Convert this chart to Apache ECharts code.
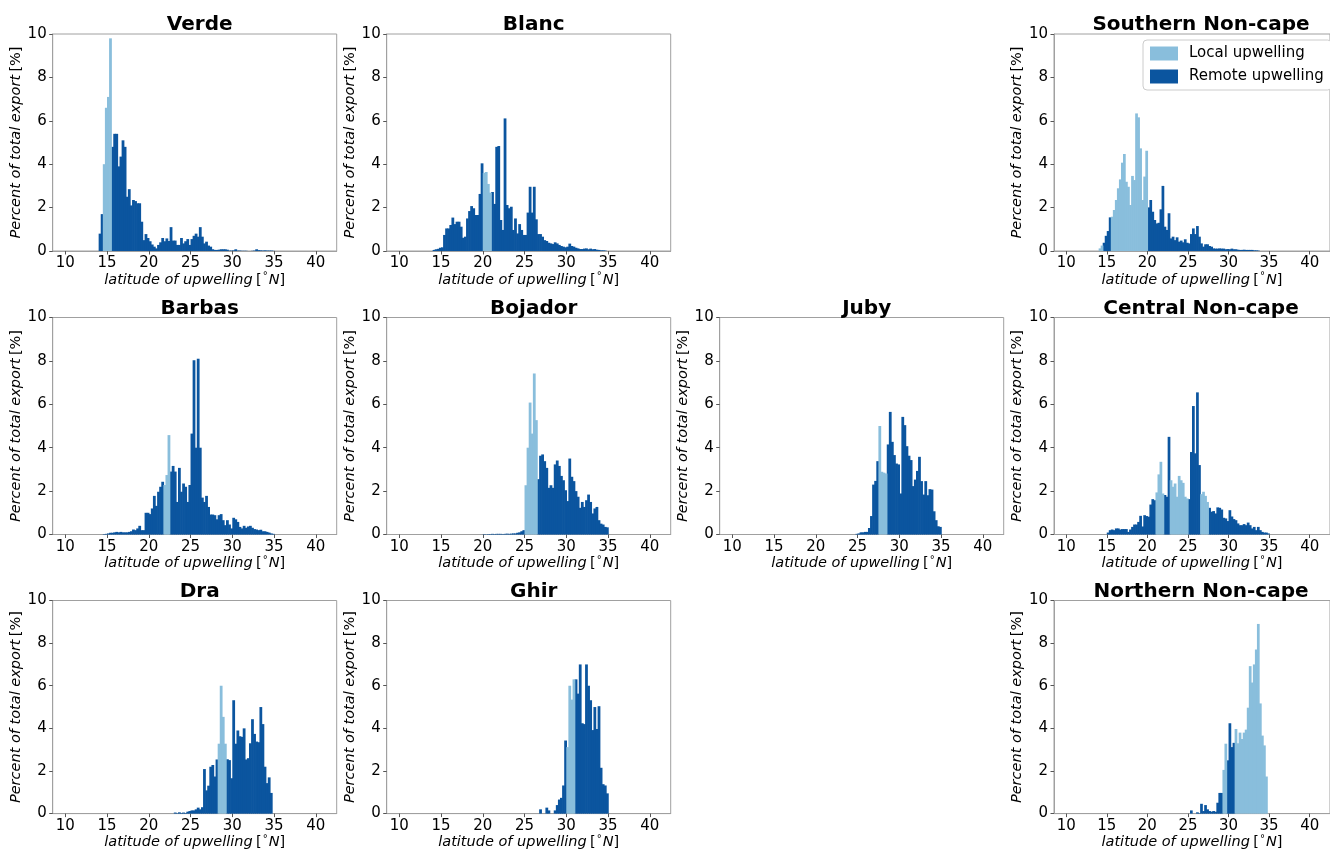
<!DOCTYPE html>
<html>
<head>
<meta charset="utf-8">
<script src="https://cdn.jsdelivr.net/npm/echarts@6/dist/echarts.min.js"></script>
<style>html,body{margin:0;padding:0;background:#fff}#c{width:1330px;height:851px}</style>
</head>
<body>
<div id="c"></div>
<script>
// ---------- data ----------
const xTicks = [10, 15, 20, 25, 30, 35, 40];
const yTicks = [0, 2, 4, 6, 8, 10];
const binWidth = 0.25;
const seriesNames = ['Local upwelling', 'Remote upwelling'];

const verdeStart = 14.0;
const verdeLocal = [[14.5, 15.5]];
const verdeValues = [0.8, 1.7, 4.0, 6.6, 7.1, 9.8, 4.8, 5.4, 5.4, 3.9, 4.35, 5.1, 4.8, 2.5, 2.85, 2.1,
  2.35, 2.3, 2.2, 2.2, 1.35, 0.5, 0.78, 0.6, 0.45, 0.3, 0.2, 0.12, 0.28, 0.4, 0.6, 0.45,
  0.58, 0.46, 1.1, 0.48, 0.48, 0.28, 0.28, 0.6, 0.35, 0.45, 0.55, 0.28, 0.55, 0.7, 0.8, 0.66,
  1.1, 0.66, 0.35, 0.43, 0.25, 0.2, 0.08, 0.05, 0.05, 0.06, 0.08, 0.08, 0.08, 0.06, 0.02, 0.02,
  0.03, 0.08, 0.02, 0.02, 0.01, 0.01, 0.01, 0, 0, 0.01, 0.02, 0.08, 0.04, 0.03, 0.02, 0.03,
  0.02, 0.02, 0.02, 0.01];

const blancStart = 14.0;
const blancLocal = [[20.0, 21.0]];
const blancValues = [0.05, 0.08, 0.1, 0.15, 0.17, 0.74, 1.04, 1.04, 1.2, 1.54, 1.24, 1.35, 1.35, 1.12, 0.61, 0.66,
  1.5, 1.84, 2.07, 1.97, 1.66, 1.66, 2.63, 4.04, 3.6, 3.64, 3.09, 2.69, 2.72, 2.17, 4.8, 4.84,
  1.43, 0.97, 6.11, 2.12, 1.97, 2.04, 0.97, 1.5, 0.81, 1.24, 0.97, 0.74, 0.74, 1.77, 2.96, 1.77,
  2.96, 1.46, 0.78, 0.78, 0.66, 0.5, 0.46, 0.38, 0.35, 0.32, 0.4, 0.35, 0.28, 0.23, 0.2, 0.17,
  0.2, 0.34, 0.23, 0.2, 0.15, 0.12, 0.09, 0.09, 0.11, 0.12, 0.08, 0.11, 0.08, 0.09, 0.06, 0.05,
  0.03, 0.03, 0.02];

const southernStart = 14.0;
const southernLocal = [[14.0, 14.5], [15.5, 20.0]];
const southernValues = [0.12, 0.25, 0.38, 0.7, 0.92, 1.55, 1.58, 1.89, 2.35, 2.89, 3.3, 4.07, 4.47, 3.19, 2.96, 2.12,
  3.46, 3.27, 6.34, 6.16, 4.73, 2.35, 3.43, 4.62, 2.01, 2.35, 1.81, 1.43, 1.27, 1.3, 1.92, 3.0,
  1.12, 0.97, 1.74, 0.58, 0.66, 0.5, 0.63, 0.43, 0.48, 0.4, 0.54, 0.38, 0.35, 0.78, 1.04, 0.78,
  1.15, 0.66, 0.35, 0.2, 0.31, 0.31, 0.23, 0.2, 0.12, 0.11, 0.11, 0.12, 0.11, 0.11, 0.08, 0.09,
  0.08, 0.11, 0.08, 0.08, 0.06, 0.05, 0.05, 0.06, 0.05, 0.05, 0.05, 0.05, 0.03, 0.03, 0.02];

const barbasStart = 14.5;
const barbasLocal = [[21.75, 22.5]];
const barbasValues = [0.02, 0.03, 0.05, 0.08, 0.08, 0.1, 0.12, 0.1, 0.12, 0.1, 0.1, 0.1, 0.12, 0.15,
  0.23, 0.2, 0.28, 0.4, 0.2, 0.2, 1.0, 1.0, 0.94, 1.2, 1.78, 1.32, 1.97, 2.2, 2.43, 2.28,
  2.74, 4.58, 2.9, 3.16, 2.9, 1.5, 3.07, 1.97, 2.35, 2.2, 1.5, 2.28, 4.65, 8.03, 4.0, 8.1,
  4.0, 1.7, 1.5, 1.78, 1.27, 0.92, 0.92, 0.89, 0.7, 0.89, 0.94, 0.66, 0.43, 0.66, 0.46, 0.28,
  0.77, 0.7, 0.58, 0.35, 0.28, 0.4, 0.31, 0.37, 0.4, 0.31, 0.25, 0.23, 0.2, 0.22, 0.15, 0.15,
  0.12, 0.09, 0.05, 0.03];

const bojadorStart = 20.0;
const bojadorLocal = [[25.0, 26.5]];
const bojadorValues = [0.02, 0.01, 0.02, 0.02, 0.03, 0.02, 0.03, 0.03, 0.03, 0.02, 0.03, 0.04, 0.03, 0.04, 0.05, 0.05,
  0.08, 0.1, 0.15, 0.2, 2.27, 4.0, 6.08, 4.65, 7.42, 5.27, 2.55, 3.63, 3.69, 3.38, 3.07, 2.15,
  2.27, 2.15, 3.23, 3.41, 3.16, 2.7, 2.5, 2.04, 1.54, 3.5, 2.66, 2.46, 2.0, 1.74, 1.23, 1.5,
  1.27, 1.58, 1.84, 1.5, 0.97, 1.2, 1.27, 0.66, 0.5, 0.46, 0.35, 0.33];

const jubyStart = 24.75;
const jubyLocal = [[27.5, 28.5]];
const jubyValues = [0.03, 0.05, 0.1, 0.1, 0.12, 0.12, 0.3, 0.85, 2.3, 2.47, 3.38, 5.0, 2.89, 2.85, 2.81,
  4.15, 5.65, 4.27, 3.66, 3.27, 3.23, 1.89, 5.42, 5.04, 4.07, 3.63, 3.43, 2.23, 2.53,
  2.93, 3.58, 2.46, 1.84, 2.46, 1.81, 2.09, 2.07, 1.07, 0.66, 0.38, 0.35];

const centralStart = 15.0;
const centralLocal = [[21.0, 22.0], [22.75, 25.0], [26.5, 27.5]];
const centralValues = [0.09, 0.2, 0.23, 0.2, 0.28, 0.28, 0.23, 0.25, 0.25, 0.25, 0.12, 0.23, 0.35, 0.46, 0.46, 0.58,
  0.86, 0.37, 0.89, 0.85, 0.82, 1.38, 1.63, 1.58, 1.94, 2.77, 3.35, 1.89, 1.82, 1.74, 4.5,
  2.5, 2.2, 2.35, 1.74, 2.7, 2.5, 2.38, 1.74, 1.66, 1.63, 3.8, 5.92, 3.74, 6.55, 3.2,
  1.86, 1.97, 1.78, 1.5, 1.23, 1.05, 1.08, 0.97, 1.25, 1.23, 1.15, 0.77, 0.74, 0.62,
  1.12, 0.83, 0.71, 0.66, 0.51, 0.43, 0.43, 0.48, 0.43, 0.55, 0.43, 0.28, 0.35, 0.2, 0.35, 0.2,
  0.12, 0.09, 0.09, 0.05];

const draStart = 23.0;
const draLocal = [[28.25, 29.25]];
const draValues = [0.05, 0.02, 0.06, 0.03, 0.05, 0.03, 0.09, 0.12, 0.15, 0.15, 0.2, 0.28, 0.2, 0.3,
  2.09, 1.09, 1.31, 2.2, 2.28, 1.74, 2.54, 3.28, 6.0, 4.54, 3.28, 2.55, 2.51, 1.66,
  5.32, 3.28, 3.9, 3.63, 3.6, 4.0, 2.54, 2.6, 3.3, 4.43, 3.74, 3.38, 3.35, 5.0, 4.2, 2.2,
  1.43, 1.7, 0.97];

const ghirStart = 26.75;
const ghirLocal = [[30.0, 31.0]];
const ghirValues = [0.2, 0, 0, 0.28, 0.15, 0, 0, 0.15, 0.4, 0.66, 0.74, 1.32, 3.43,
  3.12, 6.0, 5.35, 6.3, 6.3, 5.63, 7.0, 4.24, 4.2, 7.0, 6.0, 5.32, 3.92, 5.0, 3.97, 5.04,
  2.15, 1.38, 1.32, 0.95];

const northernStart = 25.25;
const northernLocal = [[29.25, 29.75], [30.75, 34.75]];
const northernValues = [0.15, 0, 0, 0.06, 0.02, 0.46, 0.12, 0.4, 0.2, 0.12, 0.09, 0.12, 0.09, 0.51, 0.97, 0.97,
  2.05, 3.28, 2.5, 4.24, 3.12, 3.32, 3.97, 3.3, 3.8, 3.5, 3.8, 3.94, 4.97, 6.92, 6.15, 7.0,
  7.7, 8.9, 5.17, 3.66, 3.2, 1.74];

// ---------- layout / style ----------
const LIGHT = '#89bedc';
const DARK = '#0b559f';
const FONT = 'DejaVu Sans';
const rowTops = [34, 317.5, 600.5];
const colLefts = [52.7, 386.7, 719.7, 1054];
const gridW = 284, gridH = 217;

const panels = [
  { title: 'Verde', start: verdeStart, values: verdeValues, local: verdeLocal, r: 0, c: 0 },
  { title: 'Blanc', start: blancStart, values: blancValues, local: blancLocal, r: 0, c: 1 },
  { title: 'Southern Non-cape', start: southernStart, values: southernValues, local: southernLocal, r: 0, c: 3 },
  { title: 'Barbas', start: barbasStart, values: barbasValues, local: barbasLocal, r: 1, c: 0 },
  { title: 'Bojador', start: bojadorStart, values: bojadorValues, local: bojadorLocal, r: 1, c: 1 },
  { title: 'Juby', start: jubyStart, values: jubyValues, local: jubyLocal, r: 1, c: 2 },
  { title: 'Central Non-cape', start: centralStart, values: centralValues, local: centralLocal, r: 1, c: 3 },
  { title: 'Dra', start: draStart, values: draValues, local: draLocal, r: 2, c: 0 },
  { title: 'Ghir', start: ghirStart, values: ghirValues, local: ghirLocal, r: 2, c: 1 },
  { title: 'Northern Non-cape', start: northernStart, values: northernValues, local: northernLocal, r: 2, c: 3 }
];

function renderBar(params, api) {
  const p0 = api.coord([api.value(0), api.value(2)]);
  const p1 = api.coord([api.value(1), 0]);
  // slight overlap with the neighbouring bin so adjacent bars read as one solid block
  return {
    type: 'rect',
    shape: { x: p0[0], y: p0[1], width: p1[0] - p0[0] + 0.7, height: p1[1] - p0[1] },
    style: { fill: api.visual('color') }
  };
}

const grids = [], xAxes = [], yAxes = [], series = [], titles = [];
panels.forEach((p, i) => {
  const left = colLefts[p.c], top = rowTops[p.r];
  grids.push({ left: left, top: top, width: gridW, height: gridH, show: true,
    borderColor: '#a0a0a0', borderWidth: 1, backgroundColor: 'transparent' });
  titles.push({ text: p.title, left: left + gridW / 2, top: top - 24, textAlign: 'center',
    textStyle: { fontFamily: FONT, fontSize: 20, fontWeight: 'bold', color: '#000' } });
  xAxes.push({ type: 'value', gridIndex: i, min: 8.5, max: 42.5,
    name: '{i|latitude of upwelling} {u|[}{s|°}{i|N}{u|]}', nameLocation: 'middle', nameGap: 20,
    nameTextStyle: { rich: {
      i: { fontFamily: FONT, fontSize: 14.5, fontStyle: 'italic', color: '#000' },
      u: { fontFamily: FONT, fontSize: 14.5, color: '#000' },
      s: { fontFamily: FONT, fontSize: 10, color: '#000', verticalAlign: 'top', padding: [0, 1, 6, 1] } } },
    axisLine: { show: true, lineStyle: { color: '#a0a0a0', width: 1 } },
    axisTick: { show: true, length: 3.5, customValues: xTicks, lineStyle: { color: '#555' } },
    axisLabel: { customValues: xTicks, margin: 5, fontFamily: FONT, fontSize: 15, color: '#000' },
    splitLine: { show: false } });
  yAxes.push({ type: 'value', gridIndex: i, min: yTicks[0], max: yTicks[yTicks.length - 1], interval: 2,
    name: '{i|Percent of total export} {u|[%]}', nameLocation: 'middle', nameGap: 23, nameRotate: 90,
    nameTextStyle: { rich: {
      i: { fontFamily: FONT, fontSize: 14.5, fontStyle: 'italic', color: '#000' },
      u: { fontFamily: FONT, fontSize: 14.5, color: '#000' } } },
    axisLine: { show: true, lineStyle: { color: '#a0a0a0', width: 1 } },
    axisTick: { show: true, length: 3.5, lineStyle: { color: '#555' } },
    axisLabel: { margin: 6, fontFamily: FONT, fontSize: 15, color: '#000' },
    splitLine: { show: false } });
  const localData = [], remoteData = [];
  p.values.forEach((v, k) => {
    if (!v) return;
    const lat0 = p.start + k * binWidth, lat1 = lat0 + binWidth;
    const isLocal = p.local.some(rg => lat0 >= rg[0] - 1e-6 && lat0 < rg[1] - 1e-6);
    (isLocal ? localData : remoteData).push([lat0, lat1, v]);
  });
  series.push({ type: 'custom', name: seriesNames[1], xAxisIndex: i, yAxisIndex: i, renderItem: renderBar,
    itemStyle: { color: DARK }, encode: { x: [0, 1], y: 2 }, data: remoteData, silent: true });
  series.push({ type: 'custom', name: seriesNames[0], xAxisIndex: i, yAxisIndex: i, renderItem: renderBar,
    itemStyle: { color: LIGHT }, encode: { x: [0, 1], y: 2 }, data: localData, silent: true });
});

const chart = echarts.init(document.getElementById('c'), null, { renderer: 'canvas' });
chart.setOption({
  animation: false,
  backgroundColor: '#fff',
  title: titles,
  grid: grids,
  xAxis: xAxes,
  yAxis: yAxes,
  legend: {
    left: 1143, top: 40, orient: 'vertical', selectedMode: false,
    data: [{ name: seriesNames[0], itemStyle: { color: LIGHT } }, { name: seriesNames[1], itemStyle: { color: DARK } }],
    icon: 'rect', itemWidth: 28, itemHeight: 14, itemGap: 8,
    padding: [6, 8, 6, 7], borderColor: '#cccccc', borderWidth: 1, borderRadius: 4, backgroundColor: '#fff',
    textStyle: { fontFamily: FONT, fontSize: 15, color: '#000', padding: [0, 0, 0, 6] }
  },
  series: series
});
</script>
</body>
</html>
